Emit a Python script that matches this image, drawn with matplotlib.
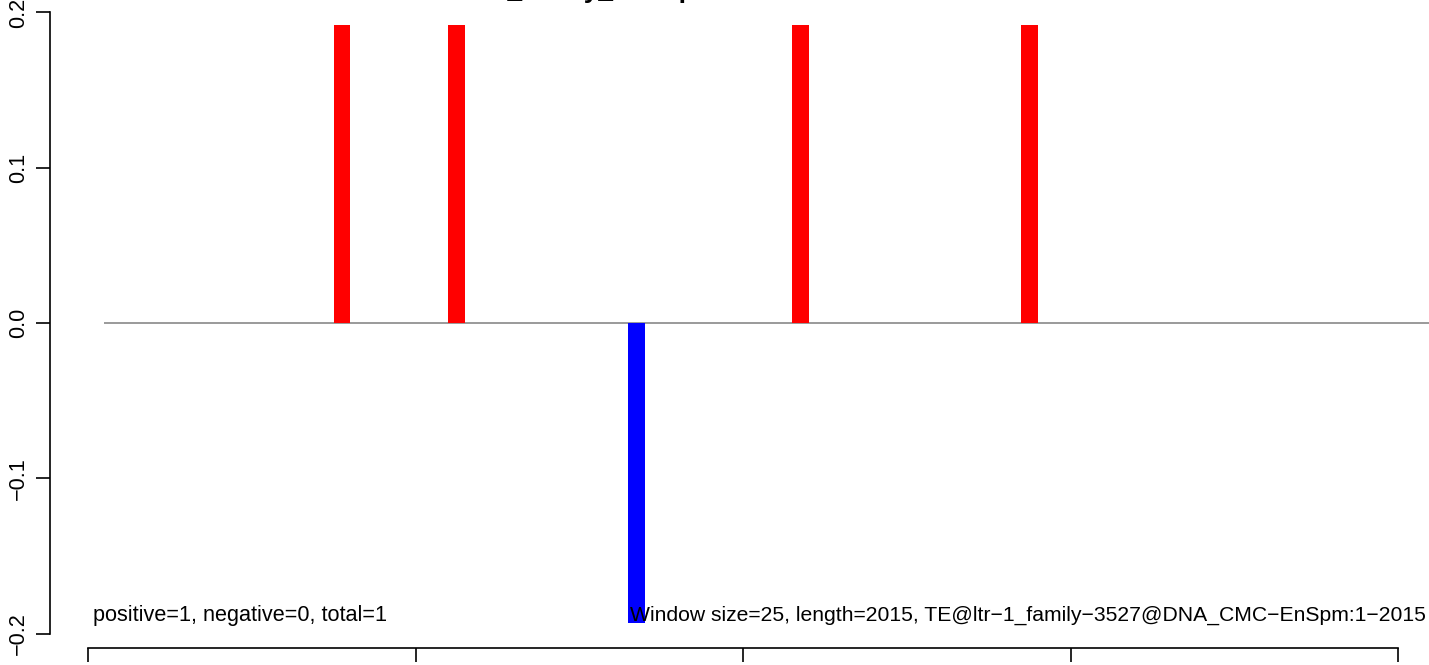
import matplotlib
matplotlib.use("Agg")
import matplotlib.pyplot as plt

# window start positions and scores
bar_starts = [375, 550, 825, 1075, 1425]
bar_values = [0.192, 0.192, -0.193, 0.192, 0.192]
window = 25
seq_length = 2015

y_ticks = [-0.2, -0.1, 0.0, 0.1, 0.2]
y_labels = ["\u22120.2", "\u22120.1", "0.0", "0.1", "0.2"]
x_ticks = [0, 500, 1000, 1500, 2000]

title = "ltr\u22121_family_3527 plot"
left_note = "positive=1, negative=0, total=1"
right_note = ("Window size=25, length=2015, "
              "TE@ltr\u22121_family\u22123527@DNA_CMC\u2212EnSpm:1\u22122015")

plt.rcParams['font.family'] = ['Liberation Sans', 'DejaVu Sans']

W, H, DPI = 1429, 665, 100
fig = plt.figure(figsize=(W / DPI, H / DPI), dpi=DPI)
ax = fig.add_axes([0, 0, 1, 1])
ax.patch.set_visible(False)

# pixel -> data mapping
xs, x0 = 0.655, 88.0      # px per unit, px of x=0
ys, y0 = 1553.0, 323.0    # px per unit, px of y=0
ax.set_xlim(-x0 / xs, (W - x0) / xs)
ax.set_ylim(-(H - y0) / ys, y0 / ys)

ax.hlines(0, window, 2200, color='#9a9a9a', lw=1.4, zorder=1)

for s, v in zip(bar_starts, bar_values):
    ax.bar(s, v, width=window, align='edge',
           color='red' if v > 0 else 'blue', lw=0, zorder=2)

fs = 15.6
ax.text(7.6, -0.1919, left_note, fontsize=fs, va='baseline', ha='left', zorder=3)
# slightly smaller so the whole line fits inside the right edge
ax.text(828, -0.1919, right_note, fontsize=15.2, va='baseline', ha='left', zorder=3)

fig.text(451 / W, 1 + 2 / H, title, fontsize=18.9, fontweight='bold',
         va='baseline', ha='left')

for sp in ['top', 'right']:
    ax.spines[sp].set_visible(False)
ax.spines['left'].set_position(('data', (50 - x0) / xs))
ax.spines['left'].set_bounds(-0.2, 0.2)
ax.spines['bottom'].set_position(('data', (y0 - 648) / ys))
ax.spines['bottom'].set_bounds(0, 2000)
for sp in ['left', 'bottom']:
    ax.spines[sp].set_linewidth(1.2)

ax.set_yticks(y_ticks)
ax.set_yticklabels(y_labels, rotation=90, va='center')
ax.set_xticks(x_ticks)
ax.set_xticklabels([''] * len(x_ticks))
ax.tick_params(axis='both', direction='out', length=10, width=1.2, labelsize=fs)
ax.tick_params(axis='y', pad=5)

fig.savefig("out.png", dpi=DPI)
